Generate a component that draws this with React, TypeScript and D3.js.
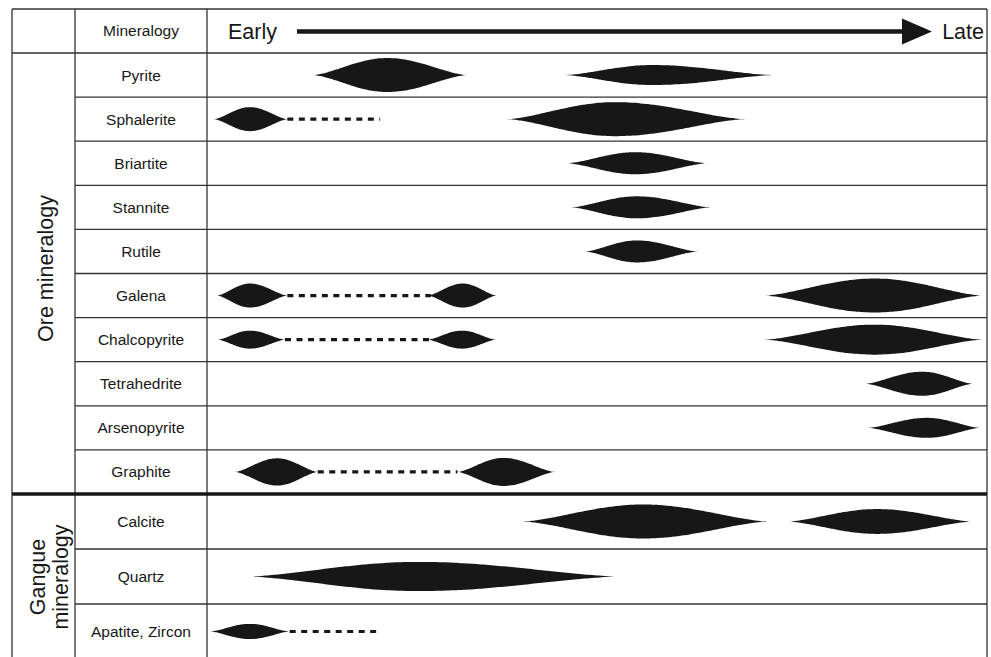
import * as d3 from 'd3';
import React, { useEffect, useRef } from 'react';

// Paragenetic sequence: relative time 0 (early) .. 100 (late)
const oreMinerals = ['Pyrite', 'Sphalerite', 'Briartite', 'Stannite', 'Rutile', 'Galena',
    'Chalcopyrite', 'Tetrahedrite', 'Arsenopyrite', 'Graphite'];
const gangueMinerals = ['Calcite', 'Quartz', 'Apatite, Zircon'];

// lenses: [start, peak, end, abundance]
const lenses: Record<string, number[][]> = {
    'Pyrite': [[13.6, 23.1, 33.3, 8.5], [45.9, 57.1, 72.6, 5]],
    'Sphalerite': [[0.9, 5.5, 10.3, 6], [38.5, 52.3, 69.0, 8.5]],
    'Briartite': [[46.2, 54.9, 64.1, 5.5]],
    'Stannite': [[46.7, 55.1, 64.6, 5.5]],
    'Rutile': [[48.5, 55.1, 62.9, 5.5]],
    'Galena': [[1.3, 5.5, 10.3, 6], [28.3, 32.8, 37.1, 6], [71.5, 85.6, 99.4, 8.5]],
    'Chalcopyrite': [[1.4, 5.5, 10.0, 4.5], [28.3, 32.7, 37.0, 4.5], [71.5, 85.6, 99.4, 7.5]],
    'Tetrahedrite': [[84.4, 91.7, 98.2, 6]],
    'Arsenopyrite': [[84.7, 92.3, 99.1, 5]],
    'Graphite': [[3.6, 9.0, 14.2, 6.8], [32.1, 38.0, 44.6, 7]],
    'Calcite': [[40.5, 55.9, 71.9, 8.5], [74.5, 85.9, 98.1, 6.2]],
    'Quartz': [[5.3, 27.1, 52.9, 7.3]],
    'Apatite, Zircon': [[0.4, 5.5, 10.6, 3.8]],
};

// uncertain occurrence: [start, end]
const dashed: Record<string, number[][]> = {
    'Sphalerite': [[10.3, 22.2]],
    'Galena': [[10.3, 28.7]],
    'Chalcopyrite': [[10.0, 28.7]],
    'Graphite': [[14.2, 32.1]],
    'Apatite, Zircon': [[10.6, 22.2]],
};

const groups = ['Ore mineralogy', 'Gangue\nmineralogy'];

const W = 991;
const H = 657;
const ink = '#171717';
const gridColor = '#333';
const font = '"Liberation Sans", Arial, Helvetica, sans-serif';

const App = () => {
    const ref = useRef<SVGSVGElement>(null);

    useEffect(() => {
        const svg = d3.select(ref.current);
        svg.selectAll('*').remove();

        const left = 12, col1 = 75, col2 = 207, right = 987;
        const top = 9, headerBottom = 53, sep = 494, bottom = 659;

        const x = d3.scaleLinear().domain([0, 100]).range([col2, right]);
        const r = d3.scaleLinear().domain([0, 10]).range([0, 20]);
        const yOre = d3.scaleBand().domain(oreMinerals).range([headerBottom, sep]);
        const yGangue = d3.scaleBand().domain(gangueMinerals).range([sep, bottom]);
        const rowY = (m: string) => oreMinerals.includes(m) ? yOre(m)! : yGangue(m)!;
        const rowH = (m: string) => oreMinerals.includes(m) ? yOre.bandwidth() : yGangue.bandwidth();
        const all = [...oreMinerals, ...gangueMinerals];

        // grid
        const g = svg.append('g');
        const hline = (y: number, x1: number, w = 1.3) =>
            g.append('line').attr('x1', x1).attr('x2', right).attr('y1', y).attr('y2', y)
                .attr('stroke', gridColor).attr('stroke-width', w);
        hline(top, left);
        hline(headerBottom, left);
        oreMinerals.slice(1).forEach(m => hline(yOre(m)!, col1));
        gangueMinerals.slice(1).forEach(m => hline(yGangue(m)!, col1));
        hline(bottom, left);
        [left, col1, col2, right].forEach(cx =>
            g.append('line').attr('x1', cx).attr('x2', cx).attr('y1', top).attr('y2', bottom)
                .attr('stroke', gridColor).attr('stroke-width', 1.3));
        hline(sep, left, 3.6).attr('stroke', ink);

        // header
        g.append('text').attr('x', (col1 + col2) / 2).attr('y', 36)
            .attr('text-anchor', 'middle').attr('font-family', font).attr('font-size', 15.5)
            .attr('fill', ink).text('Mineralogy');
        g.append('text').attr('x', 228).attr('y', 39)
            .attr('font-family', font).attr('font-size', 21.5).attr('fill', ink).text('Early');
        g.append('text').attr('x', 984).attr('y', 39).attr('text-anchor', 'end')
            .attr('font-family', font).attr('font-size', 21.5).attr('fill', ink).text('Late');
        g.append('line').attr('x1', 297).attr('x2', 906).attr('y1', 31.5).attr('y2', 31.5)
            .attr('stroke', ink).attr('stroke-width', 4.5);
        g.append('path').attr('d', 'M902,18.5 L932,31.5 L902,44.5 Z').attr('fill', ink);

        // row labels
        g.selectAll('.rowlabel').data(all).enter().append('text')
            .attr('x', (col1 + col2) / 2)
            .attr('y', d => rowY(d) + rowH(d) / 2 + 5.5)
            .attr('text-anchor', 'middle').attr('font-family', font).attr('font-size', 15.5)
            .attr('fill', ink).text(d => d);

        // group labels
        const groupCenters = [(headerBottom + sep) / 2 - 5, 577];
        groups.forEach((label, i) => {
            const lines = label.split('\n');
            const t = g.append('text')
                .attr('transform', `translate(${(left + col1) / 2 + 2},${groupCenters[i]}) rotate(-90)`)
                .attr('text-anchor', 'middle').attr('font-family', font).attr('font-size', 21.5)
                .attr('fill', ink);
            lines.forEach((ln, j) => {
                t.append('tspan').attr('x', 0)
                    .attr('dy', j === 0 ? (lines.length === 1 ? 7 : -1) : 23).text(ln);
            });
        });

        // dashed lines
        all.forEach(m => {
            const cy = rowY(m) + rowH(m) / 2;
            (dashed[m] || []).forEach(([s, e]) => {
                g.append('line').attr('x1', x(s)).attr('x2', x(e)).attr('y1', cy).attr('y2', cy)
                    .attr('stroke', ink).attr('stroke-width', 3.2).attr('stroke-dasharray', '6,5.5');
            });
        });

        // lenses
        const area = d3.area<{ t: number, a: number, cy: number }>()
            .x(d => x(d.t))
            .y0(d => d.cy - r(d.a))
            .y1(d => d.cy + r(d.a))
            .curve(d3.curveMonotoneX);
        const profile = (f: number) => Math.pow((1 - Math.cos(Math.PI * f)) / 2, 0.75);
        all.forEach(m => {
            const cy = rowY(m) + rowH(m) / 2;
            (lenses[m] || []).forEach(([s, p, e, a]) => {
                const pts: { t: number, a: number, cy: number }[] = [];
                const n = 40;
                for (let i = 0; i <= n; i++) {
                    pts.push({ t: s + (p - s) * (i / n), a: a * profile(i / n), cy });
                }
                for (let i = 1; i <= n; i++) {
                    pts.push({ t: p + (e - p) * (i / n), a: a * profile(1 - i / n), cy });
                }
                g.append('path').datum(pts).attr('d', area).attr('fill', ink);
            });
        });
    }, []);

    return (
        <div>
            <svg ref={ref} width={W} height={H}
                style={{ position: 'absolute', left: 0, top: 0, background: '#fff' }}>
            </svg>
        </div>
    );
};

export default App;
